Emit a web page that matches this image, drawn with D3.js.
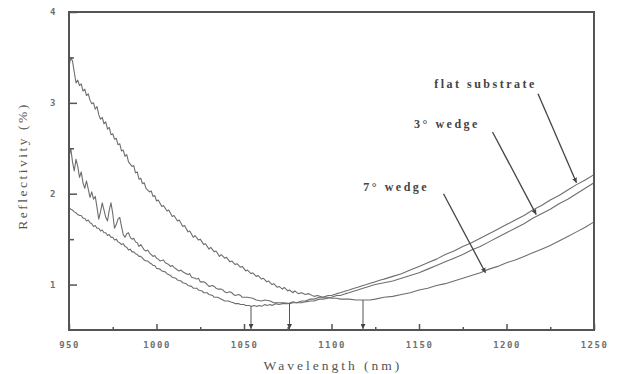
<!DOCTYPE html>
<html>
<head>
<meta charset="utf-8">
<script src="https://cdn.jsdelivr.net/npm/d3@7"></script>
<style>
  html, body { margin: 0; padding: 0; background: #fff; }
  svg { display: block; }
</style>
</head>
<body>
<svg id="chart" width="617" height="374"></svg>
<script>
// ---- data ----
const xTicks = [950, 1000, 1050, 1100, 1150, 1200, 1250];
const xMinorTicks = [975, 1025, 1075, 1125, 1175, 1225];
const yTicks = [1, 2, 3, 4];
const yMinorTicks = [1.5, 2.5, 3.5];

// [wavelength nm, reflectivity %]
const flatSubstrate = [
  [950,1.85],[951,1.83],[952,1.82],[953,1.80],[954,1.79],[955,1.77],[956,1.76],[957,1.76],[958,1.73],[959,1.73],
  [960,1.70],[961,1.71],[962,1.68],[963,1.67],[964,1.64],[965,1.65],[966,1.62],[967,1.62],[968,1.59],[969,1.60],
  [970,1.57],[971,1.57],[972,1.54],[973,1.55],[974,1.52],[975,1.52],[976,1.49],[977,1.50],[978,1.47],[979,1.46],
  [980,1.44],[981,1.45],[982,1.42],[983,1.41],[984,1.38],[985,1.39],[986,1.36],[987,1.36],[988,1.34],[989,1.33],
  [990,1.31],[991,1.31],[992,1.29],[993,1.27],[994,1.26],[995,1.26],[996,1.24],[997,1.23],[998,1.21],[999,1.21],
  [1000,1.18],[1002,1.17],[1003,1.15],[1005,1.14],[1006,1.12],[1008,1.10],[1009,1.08],[1011,1.07],[1012,1.05],[1014,1.04],
  [1015,1.02],[1017,1.01],[1018,0.99],[1020,0.98],[1021,0.96],[1023,0.96],[1024,0.94],[1026,0.93],[1027,0.91],[1029,0.91],
  [1030,0.89],[1032,0.88],[1033,0.86],[1035,0.86],[1036,0.85],[1038,0.83],[1039,0.82],[1041,0.82],[1042,0.81],[1044,0.80],
  [1045,0.79],[1047,0.79],[1048,0.78],[1050,0.78],[1051,0.77],[1053,0.77],[1054,0.76],[1056,0.77],[1057,0.76],[1059,0.77],
  [1060,0.76],[1062,0.78],[1063,0.77],[1065,0.78],[1066,0.77],[1068,0.79],[1070,0.78],[1072,0.79],[1075,0.79],[1078,0.81],
  [1080,0.80],[1083,0.82],[1085,0.82],[1088,0.84],[1090,0.84],[1093,0.86],[1095,0.86],[1098,0.88],[1100,0.88],[1103,0.90],
  [1105,0.91],[1108,0.93],[1110,0.94],[1113,0.96],[1115,0.97],[1118,0.99],[1120,1.00],[1123,1.02],[1125,1.03],[1128,1.05],
  [1130,1.06],[1135,1.09],[1140,1.12],[1145,1.16],[1150,1.20],[1155,1.24],[1160,1.28],[1165,1.33],[1170,1.37],[1175,1.42],
  [1180,1.46],[1185,1.51],[1190,1.56],[1195,1.61],[1200,1.66],[1205,1.71],[1210,1.76],[1215,1.82],[1220,1.87],[1225,1.93],
  [1230,1.98],[1235,2.04],[1240,2.10],[1245,2.15],[1250,2.21]
];

const wedge3 = [
  [950,2.40],[951,2.50],[952,2.35],[953,2.25],[954,2.38],[955,2.30],[956,2.18],[957,2.24],[958,2.12],[959,2.06],
  [960,2.14],[961,2.05],[962,1.96],[963,2.02],[964,1.94],[965,1.97],[966,1.85],[967,1.72],[968,1.80],[969,1.90],
  [970,1.82],[971,1.74],[972,1.70],[973,1.82],[974,1.90],[975,1.78],[976,1.62],[977,1.66],[978,1.72],[979,1.74],
  [980,1.64],[981,1.55],[982,1.52],[983,1.56],[984,1.57],[985,1.52],[986,1.50],[987,1.51],[988,1.47],[989,1.46],
  [990,1.42],[991,1.44],[992,1.41],[993,1.38],[994,1.37],[995,1.38],[996,1.35],[997,1.33],[998,1.31],[999,1.32],
  [1000,1.29],[1001,1.28],[1002,1.26],[1004,1.27],[1005,1.24],[1007,1.22],[1008,1.20],[1009,1.21],[1010,1.19],[1012,1.16],
  [1013,1.15],[1014,1.16],[1015,1.14],[1017,1.12],[1018,1.11],[1019,1.12],[1020,1.08],[1022,1.07],[1023,1.06],[1024,1.07],
  [1025,1.03],[1027,1.03],[1028,1.02],[1029,1.00],[1030,0.98],[1032,0.99],[1033,0.98],[1034,0.96],[1035,0.95],[1037,0.95],
  [1038,0.94],[1039,0.92],[1040,0.91],[1042,0.92],[1043,0.91],[1044,0.89],[1045,0.88],[1047,0.89],[1048,0.88],[1049,0.86],
  [1050,0.86],[1052,0.86],[1055,0.85],[1057,0.83],[1060,0.82],[1062,0.83],[1065,0.82],[1067,0.80],[1070,0.80],[1073,0.80],
  [1076,0.79],[1078,0.80],[1080,0.80],[1083,0.80],[1085,0.81],[1088,0.82],[1090,0.82],[1093,0.84],[1095,0.84],[1098,0.85],
  [1100,0.86],[1103,0.88],[1105,0.88],[1108,0.90],[1110,0.91],[1113,0.93],[1115,0.94],[1118,0.96],[1120,0.97],[1123,0.99],
  [1125,1.00],[1130,1.02],[1135,1.04],[1140,1.07],[1145,1.10],[1150,1.13],[1155,1.17],[1160,1.21],[1165,1.25],[1170,1.29],
  [1175,1.33],[1180,1.38],[1185,1.42],[1190,1.47],[1195,1.52],[1200,1.57],[1205,1.62],[1210,1.67],[1215,1.73],[1220,1.78],
  [1225,1.83],[1230,1.89],[1235,1.94],[1240,2.00],[1245,2.06],[1250,2.12]
];

const wedge7 = [
  [950,3.40],[951,3.50],[952,3.46],[953,3.34],[954,3.22],[955,3.25],[956,3.19],[957,3.21],[958,3.13],[959,3.15],
  [960,3.08],[961,3.10],[962,3.03],[963,2.99],[964,3.00],[965,2.93],[966,2.96],[967,2.87],[968,2.82],[969,2.84],
  [970,2.77],[971,2.79],[972,2.71],[973,2.73],[974,2.65],[975,2.66],[976,2.60],[977,2.61],[978,2.54],[979,2.55],
  [980,2.47],[981,2.48],[982,2.41],[983,2.43],[984,2.35],[986,2.30],[987,2.31],[988,2.23],[989,2.24],[990,2.16],
  [991,2.17],[992,2.11],[993,2.12],[994,2.06],[996,2.02],[997,2.03],[998,1.97],[999,1.98],[1000,1.92],[1001,1.93],
  [1003,1.86],[1004,1.87],[1006,1.81],[1007,1.82],[1009,1.75],[1010,1.76],[1012,1.70],[1013,1.71],[1015,1.64],[1016,1.65],
  [1018,1.58],[1019,1.59],[1021,1.52],[1022,1.54],[1024,1.49],[1025,1.50],[1027,1.44],[1028,1.45],[1030,1.39],[1031,1.41],
  [1033,1.36],[1034,1.37],[1036,1.31],[1037,1.33],[1039,1.29],[1040,1.30],[1042,1.25],[1043,1.26],[1045,1.22],[1046,1.23],
  [1048,1.19],[1049,1.20],[1051,1.15],[1052,1.16],[1054,1.12],[1055,1.13],[1057,1.09],[1058,1.10],[1060,1.06],[1061,1.07],
  [1063,1.03],[1064,1.04],[1066,1.00],[1067,1.01],[1069,0.97],[1070,0.98],[1072,0.95],[1073,0.97],[1075,0.93],[1076,0.94],
  [1078,0.91],[1079,0.93],[1081,0.90],[1083,0.91],[1085,0.89],[1087,0.90],[1090,0.87],[1092,0.88],[1095,0.86],[1098,0.86],
  [1100,0.85],[1103,0.85],[1105,0.84],[1108,0.84],[1110,0.84],[1114,0.83],[1118,0.83],[1122,0.83],[1125,0.84],[1130,0.86],
  [1135,0.87],[1140,0.89],[1145,0.91],[1150,0.94],[1155,0.96],[1160,0.99],[1165,1.01],[1170,1.04],[1175,1.07],[1180,1.10],
  [1185,1.13],[1190,1.17],[1195,1.20],[1200,1.24],[1205,1.27],[1210,1.31],[1215,1.35],[1220,1.39],[1225,1.43],[1230,1.48],
  [1235,1.53],[1240,1.58],[1245,1.63],[1250,1.69]
];

// minima marked by vertical arrows: [wavelength, reflectivity at curve]
const minimaArrows = [[1054, 0.76], [1076, 0.79], [1118, 0.83]];

// annotation labels: text, label anchor [wl, R], arrow from [wl, R] to [wl, R]
const labels = [
  { text: "flat substrate", at: [1188, 3.16], from: [1218, 3.10], to: [1240, 2.12] },
  { text: "3° wedge",       at: [1166, 2.72], from: [1192, 2.68], to: [1217, 1.77] },
  { text: "7° wedge",       at: [1137, 2.03], from: [1164, 2.00], to: [1188, 1.13] }
];

// ---- layout ----
const svg = d3.select("#chart");
const margin = { left: 69, right: 23, top: 12, bottom: 44 };
const W = 617, H = 374;
const x = d3.scaleLinear().domain([950, 1250]).range([margin.left, W - margin.right]);
const y = d3.scaleLinear().domain([0.5, 4]).range([H - margin.bottom, margin.top]);

const axisColor = "#555";
const lineColor = "#6e6e6e";
const textColor = "#707070";

svg.append("rect").attr("width", W).attr("height", H).attr("fill", "#fff");

const defs = svg.append("defs");
defs.append("marker")
  .attr("id", "arrowhead")
  .attr("viewBox", "0 0 10 10")
  .attr("refX", 10).attr("refY", 5)
  .attr("markerWidth", 5).attr("markerHeight", 5)
  .attr("markerUnits", "userSpaceOnUse")
  .attr("orient", "auto")
  .append("path").attr("d", "M0,0 L10,5 L0,10 Z").attr("fill", "#444");

// curves
const line = d3.line().x(d => x(d[0])).y(d => y(d[1]));
[flatSubstrate, wedge3, wedge7].forEach(series => {
  svg.append("path")
    .datum(series)
    .attr("d", line)
    .attr("fill", "none")
    .attr("stroke", lineColor)
    .attr("stroke-width", 1.1)
    .attr("stroke-linejoin", "round");
});

// vertical arrows at minima
minimaArrows.forEach(d => {
  svg.append("line")
    .attr("x1", x(d[0])).attr("y1", y(d[1]))
    .attr("x2", x(d[0])).attr("y2", y(0.5) - 1)
    .attr("stroke", "#555").attr("stroke-width", 1)
    .attr("marker-end", "url(#arrowhead)");
});

// axes (ticks inward)
const xAxis = d3.axisBottom(x).tickValues(xTicks).tickSize(-6).tickPadding(12).tickFormat(d3.format("d"));
const xMinor = d3.axisBottom(x).tickValues(xMinorTicks).tickSize(-3).tickFormat("");
const yAxis = d3.axisLeft(y).tickValues(yTicks).tickSize(-8).tickPadding(12).tickFormat(d3.format("d"));
const yMinor = d3.axisLeft(y).tickValues(yMinorTicks).tickSize(-5).tickFormat("");

function styleAxis(g) {
  g.select(".domain").remove();
  g.selectAll(".tick line").attr("stroke", axisColor).attr("stroke-width", 1.5);
  g.selectAll(".tick text")
    .attr("fill", textColor)
    .style("font-family", "'DejaVu Sans Mono', monospace")
    .style("font-size", "9px")
    .style("font-weight", "bold")
    .style("letter-spacing", "1.5px");
}

svg.append("g").attr("transform", `translate(0,${y(0.5)})`).call(xAxis).call(styleAxis);
svg.append("g").attr("transform", `translate(0,${y(0.5)})`).call(xMinor).call(styleAxis);
svg.append("g").attr("transform", `translate(${x(950)},0)`).call(yAxis).call(styleAxis);
svg.append("g").attr("transform", `translate(${x(950)},0)`).call(yMinor).call(styleAxis);

// frame
svg.append("rect")
  .attr("x", x(950)).attr("y", y(4))
  .attr("width", x(1250) - x(950)).attr("height", y(0.5) - y(4))
  .attr("fill", "none").attr("stroke", axisColor).attr("stroke-width", 2);

// axis titles
svg.append("text")
  .attr("x", 333).attr("y", 370)
  .attr("text-anchor", "middle")
  .attr("fill", "#555")
  .style("font-family", "'Liberation Serif', serif")
  .style("font-size", "13.5px")
  .style("letter-spacing", "3px")
  .text("Wavelength (nm)");

svg.append("text")
  .attr("transform", `translate(27,${(y(4) + y(0.5)) / 2 - 5}) rotate(-90)`)
  .attr("text-anchor", "middle")
  .attr("fill", "#555")
  .style("font-family", "'Liberation Serif', serif")
  .style("font-size", "13.5px")
  .style("letter-spacing", "2.5px")
  .text("Reflectivity (%)");

// annotations
labels.forEach(l => {
  svg.append("text")
    .attr("x", x(l.at[0])).attr("y", y(l.at[1]))
    .attr("text-anchor", "middle")
    .attr("fill", "#444")
    .style("font-family", "'Liberation Serif', serif")
    .style("font-size", "12px")
    .style("font-weight", "bold")
    .style("letter-spacing", "2.5px")
    .text(l.text);
  svg.append("line")
    .attr("x1", x(l.from[0])).attr("y1", y(l.from[1]))
    .attr("x2", x(l.to[0])).attr("y2", y(l.to[1]))
    .attr("stroke", "#444").attr("stroke-width", 1.3)
    .attr("marker-end", "url(#arrowhead)");
});
</script>
</body>
</html>
